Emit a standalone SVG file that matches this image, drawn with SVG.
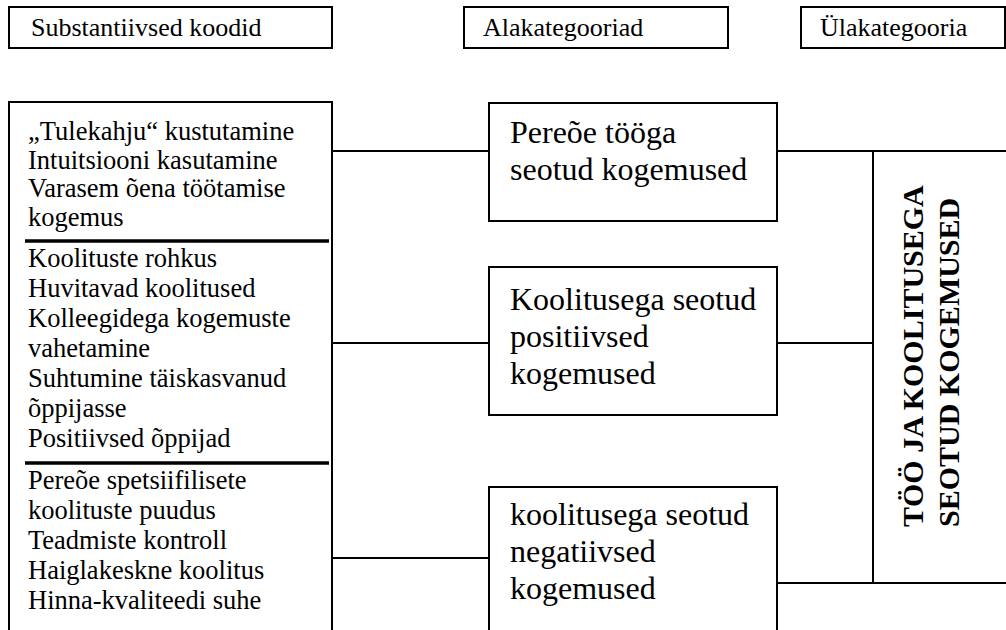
<svg xmlns="http://www.w3.org/2000/svg" width="1006" height="630" viewBox="0 0 1006 630">
  <style>
    .box { fill: #fff; stroke: #000; stroke-width: 2; }
    .con { fill: none; stroke: #000; stroke-width: 2; }
    .sep { stroke: #000; stroke-width: 3.5; }
    text { font-family: 'Liberation Serif', 'DejaVu Serif', 'Times New Roman', Times, serif; fill: #000; }
    .hdr { font-size: 26px; }
    .code { font-size: 26.5px; }
    .sub { font-size: 32px; }
    .top { font-size: 30px; font-weight: bold; }
  </style>
  <rect width="1006" height="630" fill="#fff"/>

  <!-- column headers -->
  <g id="hdr-codes">
    <rect class="box" x="9" y="7" width="323" height="41"/>
    <text class="hdr" x="31" y="36" font-family="Liberation Serif, serif">Substantiivsed koodid</text>
  </g>
  <g id="hdr-sub">
    <rect class="box" x="464" y="7" width="264" height="41"/>
    <text class="hdr" x="483" y="36" font-family="Liberation Serif, serif">Alakategooriad</text>
  </g>
  <g id="hdr-top">
    <rect class="box" x="801" y="7" width="204" height="41"/>
    <text class="hdr" x="820" y="36" font-family="Liberation Serif, serif">Ülakategooria</text>
  </g>

  <!-- connectors -->
  <g id="connectors">
    <line class="con" x1="332" y1="151" x2="489" y2="151"/>
    <line class="con" x1="332" y1="343" x2="489" y2="343"/>
    <line class="con" x1="332" y1="558" x2="489" y2="558"/>
    <line class="con" x1="777" y1="151" x2="873" y2="151"/>
    <line class="con" x1="777" y1="343" x2="873" y2="343"/>
    <line class="con" x1="777" y1="583" x2="873" y2="583"/>
  </g>

  <!-- substantive codes -->
  <g id="codes">
    <rect class="box" x="9" y="102" width="323" height="560"/>
    <line class="sep" x1="25" y1="241" x2="329" y2="241"/>
    <line class="sep" x1="25" y1="463" x2="329" y2="463"/>
    <text class="code" x="28" font-family="Liberation Serif, serif">
      <tspan x="28" y="140">„Tulekahju“ kustutamine</tspan>
      <tspan x="28" y="168.5">Intuitsiooni kasutamine</tspan>
      <tspan x="28" y="197">Varasem õena töötamise</tspan>
      <tspan x="28" y="225.5">kogemus</tspan>
      <tspan x="28" y="267">Koolituste rohkus</tspan>
      <tspan x="28" y="297">Huvitavad koolitused</tspan>
      <tspan x="28" y="327">Kolleegidega kogemuste</tspan>
      <tspan x="28" y="357">vahetamine</tspan>
      <tspan x="28" y="387">Suhtumine täiskasvanud</tspan>
      <tspan x="28" y="417">õppijasse</tspan>
      <tspan x="28" y="447">Positiivsed õppijad</tspan>
      <tspan x="28" y="489">Pereõe spetsiifilisete</tspan>
      <tspan x="28" y="519">koolituste puudus</tspan>
      <tspan x="28" y="549">Teadmiste kontroll</tspan>
      <tspan x="28" y="579">Haiglakeskne koolitus</tspan>
      <tspan x="28" y="609">Hinna-kvaliteedi suhe</tspan>
    </text>
  </g>

  <!-- subcategories -->
  <g id="sub-work">
    <rect class="box" x="489" y="103" width="288" height="118"/>
    <text class="sub" font-family="Liberation Serif, serif"><tspan x="510" y="143">Pereõe tööga</tspan><tspan x="510" y="180">seotud kogemused</tspan></text>
  </g>
  <g id="sub-positive">
    <rect class="box" x="489" y="267" width="288" height="148"/>
    <text class="sub" font-family="Liberation Serif, serif"><tspan x="510" y="310">Koolitusega seotud</tspan><tspan x="510" y="347">positiivsed</tspan><tspan x="510" y="384">kogemused</tspan></text>
  </g>
  <g id="sub-negative">
    <rect class="box" x="489" y="487" width="288" height="160"/>
    <text class="sub" font-family="Liberation Serif, serif"><tspan x="510" y="525">koolitusega seotud</tspan><tspan x="510" y="562">negatiivsed</tspan><tspan x="510" y="599">kogemused</tspan></text>
  </g>

  <!-- main category -->
  <g id="main-category">
    <rect class="box" x="873" y="151" width="150" height="432"/>
    <text class="top" font-family="Liberation Serif, serif" transform="translate(923,527) rotate(-90)">TÖÖ JA KOOLITUSEGA</text>
    <text class="top" font-family="Liberation Serif, serif" transform="translate(959,527) rotate(-90)">SEOTUD KOGEMUSED</text>
  </g>
</svg>
